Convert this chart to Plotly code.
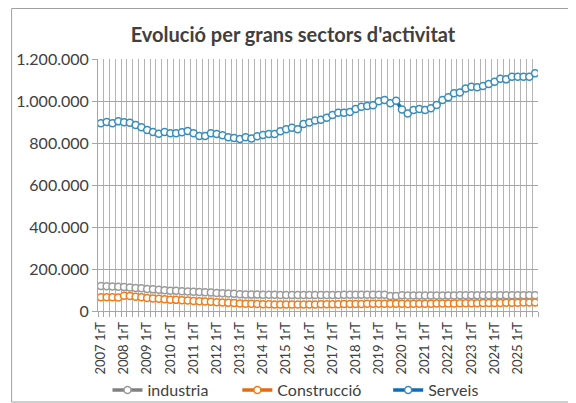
import plotly.graph_objects as go

years = list(range(2007, 2026))
quarter_names = ["1rT", "2nT", "3rT", "4tT"]
quarters = [f"{y} {q}" for y in years for q in quarter_names]

industria = [
    119000, 118000, 117000, 116000,
    114000, 112000, 110000, 108000,
    105000, 103000, 101000, 99000,
    97000, 96000, 94000, 93000,
    92000, 91000, 89000, 88000,
    86000, 85000, 83000, 82000,
    80000, 79000, 78000, 78000,
    77000, 77000, 77000, 76000,
    76000, 76000, 76000, 76000,
    76000, 76000, 76000, 76000,
    76000, 76000, 77000, 77000,
    77000, 77000, 77000, 77000,
    77000, 77000, 72000, 72000,
    75000, 74000, 74000, 74000,
    74000, 74000, 74000, 74000,
    74000, 74000, 75000, 75000,
    75000, 75000, 75000, 75000,
    75000, 75000, 75000, 75000,
    75000, 75000, 75000, 75000,
]

construccio = [
    65000, 65000, 65000, 64000,
    73000, 71000, 68000, 65000,
    62000, 60000, 58000, 56000,
    54000, 53000, 51000, 50000,
    48000, 47000, 45000, 44000,
    42000, 41000, 39000, 38000,
    36000, 35000, 34000, 33000,
    32000, 32000, 31000, 31000,
    31000, 31000, 31000, 31000,
    31000, 31000, 32000, 32000,
    32000, 32000, 33000, 33000,
    33000, 33000, 34000, 34000,
    34000, 34000, 35000, 35000,
    34000, 33000, 34000, 35000,
    35000, 35000, 36000, 36000,
    36000, 36000, 37000, 37000,
    37000, 37000, 38000, 38000,
    38000, 38000, 39000, 39000,
    39000, 40000, 40000, 40000,
]

serveis = [
    894000, 900000, 894000, 903000,
    899000, 897000, 886000, 875000,
    862000, 852000, 844000, 852000,
    846000, 846000, 851000, 857000,
    846000, 833000, 833000, 846000,
    843000, 837000, 827000, 824000,
    819000, 827000, 822000, 832000,
    838000, 843000, 843000, 856000,
    865000, 873000, 865000, 890000,
    898000, 907000, 911000, 920000,
    933000, 944000, 944000, 948000,
    962000, 973000, 976000, 980000,
    999000, 1005000, 989000, 1001000,
    960000, 941000, 957000, 962000,
    957000, 965000, 981000, 1005000,
    1018000, 1037000, 1041000, 1060000,
    1068000, 1065000, 1071000, 1081000,
    1092000, 1106000, 1103000, 1116000,
    1116000, 1116000, 1116000, 1132000,
]

y_tickvals = [0, 200000, 400000, 600000, 800000, 1000000, 1200000]
y_ticktext = ["0", "200.000", "400.000", "600.000", "800.000", "1.000.000", "1.200.000"]

series = [
    ("industria", industria, "#808080", "#9a9a9a", "legend"),
    ("Construcció", construccio, "#E46C0A", "#F07D1A", "legend2"),
    ("Serveis", serveis, "#0A6EBD", "#3A8DBB", "legend3"),
]

x_idx = list(range(len(quarters)))
x_tickvals = [i for i, q in enumerate(quarters) if q.endswith("1rT")]
x_ticktext = [quarters[i] for i in x_tickvals]

fig = go.Figure()
for name, vals, lcol, mcol, leg in series:
    fig.add_trace(go.Scatter(
        x=x_idx, y=vals, name=name, mode="lines+markers", legend=leg,
        line=dict(color=lcol, width=3.5),
        marker=dict(symbol="circle", size=7, color="white",
                    line=dict(color=mcol, width=1.5)),
        customdata=quarters, hovertemplate="%{customdata}: %{y}<extra></extra>",
    ))

# page body has an 8px margin: figure sits at (8, 8) in the window
OFF = 8
W, H = 576 - OFF, 403 - OFF
L, R, T, B = 97.5 - OFF, 576 - 538, 59 - OFF, 403 - 311
pw = W - L - R
ph = H - T - B

def px2paper_x(px):
    return (px - OFF - L) / pw

def px2paper_y(py):
    return (H - B - (py - OFF)) / ph

def leg(px):
    return dict(orientation="h", x=px2paper_x(px), xanchor="left",
                y=px2paper_y(390), yanchor="middle",
                font=dict(size=16, color="#404040"),
                itemwidth=30, bgcolor="rgba(0,0,0,0)", borderwidth=0)

fig.update_layout(
    width=W, height=H,
    margin=dict(l=L, r=R, t=T, b=B, autoexpand=False),
    paper_bgcolor="white", plot_bgcolor="white",
    font=dict(family="Lato, Carlito, Arial", color="#404040", size=13),
    title=dict(text="<b>Evolució per grans sectors d'activitat</b>",
               x=(293 - OFF) / W, xanchor="center", y=1 - (35 - OFF) / H, yanchor="middle",
               yref="container", font=dict(size=20, color="#404040")),
    showlegend=True,
    legend=leg(107),
    legend2=leg(237),
    legend3=leg(388),
    shapes=[
        dict(type="rect", xref="paper", yref="paper",
             x0=px2paper_x(11), x1=px2paper_x(569),
             y0=px2paper_y(402), y1=px2paper_y(8.5),
             line=dict(color="#a0a0a0", width=1), fillcolor="rgba(0,0,0,0)",
             layer="below"),
    ],
)

fig.update_xaxes(
    range=[-0.5, len(quarters) - 0.5],
    tickmode="array", tickvals=x_tickvals, ticktext=x_ticktext,
    tickangle=-90, tickfont=dict(size=13, color="#404040"),
    ticks="", showgrid=False, zeroline=False,
    showline=True, linecolor="#a6a6a6", linewidth=1,
    minor=dict(tick0=-0.5, dtick=1, showgrid=True, gridcolor="#b4b4b4",
               gridwidth=1, ticks="outside", ticklen=5, tickcolor="#a6a6a6"),
    ticklabelstandoff=5,
)
fig.update_yaxes(
    range=[0, 1200000],
    tickmode="array", tickvals=y_tickvals, ticktext=y_ticktext,
    tickfont=dict(size=16, color="#404040"),
    ticks="outside", ticklen=5, tickcolor="#a6a6a6",
    showgrid=True, gridcolor="#a6a6a6", gridwidth=1,
    zeroline=False, showline=True, linecolor="#a6a6a6", linewidth=1,
)

fig.write_html("out.html")
